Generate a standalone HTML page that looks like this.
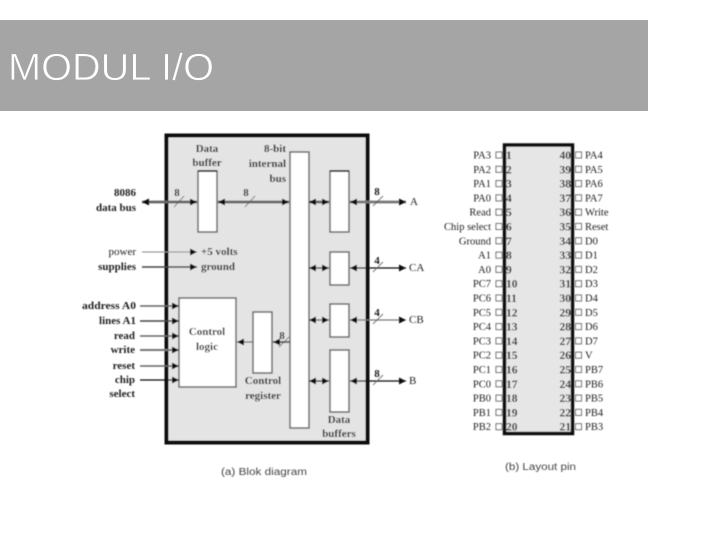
<!DOCTYPE html>
<html>
<head>
<meta charset="utf-8">
<style>
html,body{margin:0;padding:0;background:#fff;width:720px;height:540px;overflow:hidden}
svg{display:block}
text{font-family:"Liberation Serif",serif;font-size:11px;fill:#222}
.b{font-weight:bold}
.e{text-anchor:end}
.m{text-anchor:middle}
.s{font-family:"Liberation Sans",sans-serif;font-size:10px;fill:#444}
.box{fill:#fff;stroke:#666;stroke-width:1.5}
.pin{fill:#fff;stroke:#777;stroke-width:1.1}
.p text{font-size:10.5px}
.n text{font-size:11.5px;font-weight:bold;fill:#333}
</style>
</head>
<body>
<svg width="720" height="540" viewBox="0 0 720 540" xmlns="http://www.w3.org/2000/svg">
<defs>
<filter id="bl" x="-5%" y="-5%" width="110%" height="110%"><feGaussianBlur stdDeviation="0.45"/></filter>
<marker id="a" viewBox="0 0 6 6" refX="6" refY="3" markerWidth="7" markerHeight="7" markerUnits="userSpaceOnUse" orient="auto-start-reverse"><path d="M0 0L6 3L0 6Z" fill="#111"/></marker>
</defs>
<rect x="0" y="20" width="648" height="91" fill="#a5a5a5"/>
<text x="8" y="80" textLength="206" lengthAdjust="spacingAndGlyphs" style="font-family:'Liberation Sans',sans-serif;font-size:38px;fill:#fff;stroke:#a5a5a5;stroke-width:0.7px;paint-order:normal">MODUL I/O</text>

<g filter="url(#bl)">
<rect x="166.500" y="135.500" width="201" height="307" fill="#e4e4e4" stroke="#111" stroke-width="4"/>
<rect class="box" x="198" y="171" width="19" height="61"/>
<path d="M198 171H217" stroke="#111" stroke-width="1.6"/>
<rect class="box" x="290" y="152" width="19" height="276"/>
<rect class="box" x="330" y="171" width="19" height="61"/>
<path d="M330 171H349" stroke="#111" stroke-width="1.6"/>
<rect class="box" x="330" y="252" width="19" height="33"/>
<rect class="box" x="330" y="304" width="19" height="33"/>
<rect class="box" x="330" y="350" width="19" height="62"/>
<rect class="box" x="179" y="298" width="57" height="89"/>
<rect class="box" x="253" y="312" width="19" height="61"/>

<g fill="none">
<path d="M142 202H197" stroke="#666" stroke-width="2.8" marker-start="url(#a)" marker-end="url(#a)"/>
<path d="M218 202H289" stroke="#666" stroke-width="2.8" marker-start="url(#a)" marker-end="url(#a)"/>
<path d="M309 202H329" stroke="#666" stroke-width="2.8" marker-start="url(#a)" marker-end="url(#a)"/>
<path d="M350 202H406" stroke="#777" stroke-width="2.8" marker-start="url(#a)" marker-end="url(#a)"/>
<path d="M309 268H329" stroke="#222" stroke-width="1.2" marker-start="url(#a)" marker-end="url(#a)"/>
<path d="M350 268H406" stroke="#111" stroke-width="1.2" marker-start="url(#a)" marker-end="url(#a)"/>
<path d="M309 320H329" stroke="#666" stroke-width="1.3" marker-start="url(#a)" marker-end="url(#a)"/>
<path d="M350 320H406" stroke="#777" stroke-width="1.3" marker-start="url(#a)" marker-end="url(#a)"/>
<path d="M309 381H329" stroke="#111" stroke-width="1.2" marker-start="url(#a)" marker-end="url(#a)"/>
<path d="M350 381H406" stroke="#111" stroke-width="1.2" marker-start="url(#a)" marker-end="url(#a)"/>
<path d="M273 342H290" stroke="#666" stroke-width="2" marker-start="url(#a)"/>
<path d="M237 342H253" stroke="#666" stroke-width="1.2" marker-start="url(#a)"/>
<path d="M142 252H197" stroke="#888" stroke-width="1" marker-end="url(#a)"/>
<path d="M142 267H197" stroke="#444" stroke-width="1.4" marker-end="url(#a)"/>
<path d="M140 306H179" stroke="#666" stroke-width="1.6" marker-end="url(#a)"/>
<path d="M140 321H179" stroke="#444" stroke-width="1.6" marker-end="url(#a)"/>
<path d="M140 336H179" stroke="#666" stroke-width="1.6" marker-end="url(#a)"/>
<path d="M140 350H179" stroke="#777" stroke-width="2" marker-end="url(#a)"/>
<path d="M140 366H179" stroke="#666" stroke-width="1.6" marker-end="url(#a)"/>
<path d="M140 380H179" stroke="#111" stroke-width="1.2" marker-end="url(#a)"/>
</g>
<path d="M174 207L184 196M245 207L255 196M373 206L383 196M373 272L383 262M373 324L383 314M373 385L383 375M279 347L289 337" stroke="#555" stroke-width="0.8"/>

<text class="b m" x="177" y="196">8</text>
<text class="b m" x="246" y="196">8</text>
<text class="b m" x="377" y="195">8</text>
<text class="b m" x="377" y="264">4</text>
<text class="b m" x="377" y="316">4</text>
<text class="b m" x="377" y="377">8</text>
<text class="b m" x="282" y="339">8</text>

<text class="b m" x="207" y="152">Data</text>
<text class="b m" x="207" y="166">buffer</text>
<text class="b e" x="286" y="152">8-bit</text>
<text class="b e" x="286" y="167">internal</text>
<text class="b e" x="286" y="182">bus</text>
<text class="e" x="136" y="196" style="font-weight:bold">8086</text>
<text class="b e" x="136" y="211">data bus</text>
<text class="e" x="136" y="255">power</text>
<text class="b e" x="136" y="270">supplies</text>
<text class="b" x="201" y="255">+5 volts</text>
<text class="b" x="201" y="270">ground</text>
<text class="b e" x="136" y="309" textLength="54" lengthAdjust="spacingAndGlyphs">address A0</text>
<text class="b e" x="136" y="324">lines A1</text>
<text class="b e" x="135" y="339">read</text>
<text class="b e" x="135" y="353">write</text>
<text class="b e" x="135" y="369">reset</text>
<text class="b e" x="135" y="383">chip</text>
<text class="b e" x="135" y="397">select</text>
<text class="b m" x="207" y="335">Control</text>
<text class="b m" x="207" y="350">logic</text>
<text class="b m" x="263" y="384">Control</text>
<text class="b m" x="263" y="399">register</text>
<text class="b m" x="339" y="423">Data</text>
<text class="b m" x="339" y="437">buffers</text>
<text x="410" y="205">A</text>
<text x="409" y="271">CA</text>
<text x="409" y="323">CB</text>
<text x="409" y="384">B</text>

<rect x="504.500" y="145" width="68" height="288.500" fill="#e6e6e6" stroke="#111" stroke-width="3.5"/>

<g>
<rect class="pin" x="496" y="152" width="6" height="6"/><rect class="pin" x="575.500" y="152" width="6" height="6"/>
<rect class="pin" x="496" y="166.300" width="6" height="6"/><rect class="pin" x="575.500" y="166.300" width="6" height="6"/>
<rect class="pin" x="496" y="180.600" width="6" height="6"/><rect class="pin" x="575.500" y="180.600" width="6" height="6"/>
<rect class="pin" x="496" y="194.900" width="6" height="6"/><rect class="pin" x="575.500" y="194.900" width="6" height="6"/>
<rect class="pin" x="496" y="209.200" width="6" height="6"/><rect class="pin" x="575.500" y="209.200" width="6" height="6"/>
<rect class="pin" x="496" y="223.500" width="6" height="6"/><rect class="pin" x="575.500" y="223.500" width="6" height="6"/>
<rect class="pin" x="496" y="237.800" width="6" height="6"/><rect class="pin" x="575.500" y="237.800" width="6" height="6"/>
<rect class="pin" x="496" y="252.100" width="6" height="6"/><rect class="pin" x="575.500" y="252.100" width="6" height="6"/>
<rect class="pin" x="496" y="266.400" width="6" height="6"/><rect class="pin" x="575.500" y="266.400" width="6" height="6"/>
<rect class="pin" x="496" y="280.700" width="6" height="6"/><rect class="pin" x="575.500" y="280.700" width="6" height="6"/>
<rect class="pin" x="496" y="295" width="6" height="6"/><rect class="pin" x="575.500" y="295" width="6" height="6"/>
<rect class="pin" x="496" y="309.300" width="6" height="6"/><rect class="pin" x="575.500" y="309.300" width="6" height="6"/>
<rect class="pin" x="496" y="323.600" width="6" height="6"/><rect class="pin" x="575.500" y="323.600" width="6" height="6"/>
<rect class="pin" x="496" y="337.900" width="6" height="6"/><rect class="pin" x="575.500" y="337.900" width="6" height="6"/>
<rect class="pin" x="496" y="352.200" width="6" height="6"/><rect class="pin" x="575.500" y="352.200" width="6" height="6"/>
<rect class="pin" x="496" y="366.500" width="6" height="6"/><rect class="pin" x="575.500" y="366.500" width="6" height="6"/>
<rect class="pin" x="496" y="380.800" width="6" height="6"/><rect class="pin" x="575.500" y="380.800" width="6" height="6"/>
<rect class="pin" x="496" y="395.100" width="6" height="6"/><rect class="pin" x="575.500" y="395.100" width="6" height="6"/>
<rect class="pin" x="496" y="409.400" width="6" height="6"/><rect class="pin" x="575.500" y="409.400" width="6" height="6"/>
<rect class="pin" x="496" y="423.700" width="6" height="6"/><rect class="pin" x="575.500" y="423.700" width="6" height="6"/>
</g>

<g class="p">
<text class="e" x="491" y="158.500">PA3</text>
<text class="e" x="491" y="172.800">PA2</text>
<text class="e" x="491" y="187.100">PA1</text>
<text class="e" x="491" y="201.400">PA0</text>
<text class="e" x="491" y="215.700">Read</text>
<text class="e" x="491" y="230">Chip select</text>
<text class="e" x="491" y="244.300">Ground</text>
<text class="e" x="491" y="258.600">A1</text>
<text class="e" x="491" y="272.900">A0</text>
<text class="e" x="491" y="287.200">PC7</text>
<text class="e" x="491" y="301.500">PC6</text>
<text class="e" x="491" y="315.800">PC5</text>
<text class="e" x="491" y="330.100">PC4</text>
<text class="e" x="491" y="344.400">PC3</text>
<text class="e" x="491" y="358.700">PC2</text>
<text class="e" x="491" y="373">PC1</text>
<text class="e" x="491" y="387.300">PC0</text>
<text class="e" x="491" y="401.600">PB0</text>
<text class="e" x="491" y="415.900">PB1</text>
<text class="e" x="491" y="430.200">PB2</text>
</g>
<g class="n">
<text x="506" y="159">1</text>
<text x="506" y="173.300">2</text>
<text x="506" y="187.600">3</text>
<text x="506" y="201.900">4</text>
<text x="506" y="216.200">5</text>
<text x="506" y="230.500">6</text>
<text x="506" y="244.800">7</text>
<text x="506" y="259.100">8</text>
<text x="506" y="273.400">9</text>
<text x="506" y="287.700">10</text>
<text x="506" y="302">11</text>
<text x="506" y="316.300">12</text>
<text x="506" y="330.600">13</text>
<text x="506" y="344.900">14</text>
<text x="506" y="359.200">15</text>
<text x="506" y="373.500">16</text>
<text x="506" y="387.800">17</text>
<text x="506" y="402.100">18</text>
<text x="506" y="416.400">19</text>
<text x="506" y="430.700">20</text>
</g>
<g class="n">
<text class="e" x="571" y="159">40</text>
<text class="e" x="571" y="173.300">39</text>
<text class="e" x="571" y="187.600">38</text>
<text class="e" x="571" y="201.900">37</text>
<text class="e" x="571" y="216.200">36</text>
<text class="e" x="571" y="230.500">35</text>
<text class="e" x="571" y="244.800">34</text>
<text class="e" x="571" y="259.100">33</text>
<text class="e" x="571" y="273.400">32</text>
<text class="e" x="571" y="287.700">31</text>
<text class="e" x="571" y="302">30</text>
<text class="e" x="571" y="316.300">29</text>
<text class="e" x="571" y="330.600">28</text>
<text class="e" x="571" y="344.900">27</text>
<text class="e" x="571" y="359.200">26</text>
<text class="e" x="571" y="373.500">25</text>
<text class="e" x="571" y="387.800">24</text>
<text class="e" x="571" y="402.100">23</text>
<text class="e" x="571" y="416.400">22</text>
<text class="e" x="571" y="430.700">21</text>
</g>
<g class="p">
<text x="585" y="158.500">PA4</text>
<text x="585" y="172.800">PA5</text>
<text x="585" y="187.100">PA6</text>
<text x="585" y="201.400">PA7</text>
<text x="585" y="215.700">Write</text>
<text x="585" y="230">Reset</text>
<text x="585" y="244.300">D0</text>
<text x="585" y="258.600">D1</text>
<text x="585" y="272.900">D2</text>
<text x="585" y="287.200">D3</text>
<text x="585" y="301.500">D4</text>
<text x="585" y="315.800">D5</text>
<text x="585" y="330.100">D6</text>
<text x="585" y="344.400">D7</text>
<text x="585" y="358.700">V</text>
<text x="585" y="373">PB7</text>
<text x="585" y="387.300">PB6</text>
<text x="585" y="401.600">PB5</text>
<text x="585" y="415.900">PB4</text>
<text x="585" y="430.200">PB3</text>
</g>

<text class="s" x="221" y="475" textLength="86" lengthAdjust="spacingAndGlyphs">(a) Blok diagram</text>
<text class="s" x="505" y="470" textLength="71" lengthAdjust="spacingAndGlyphs">(b) Layout pin</text>
</g>
</svg>
</body>
</html>
